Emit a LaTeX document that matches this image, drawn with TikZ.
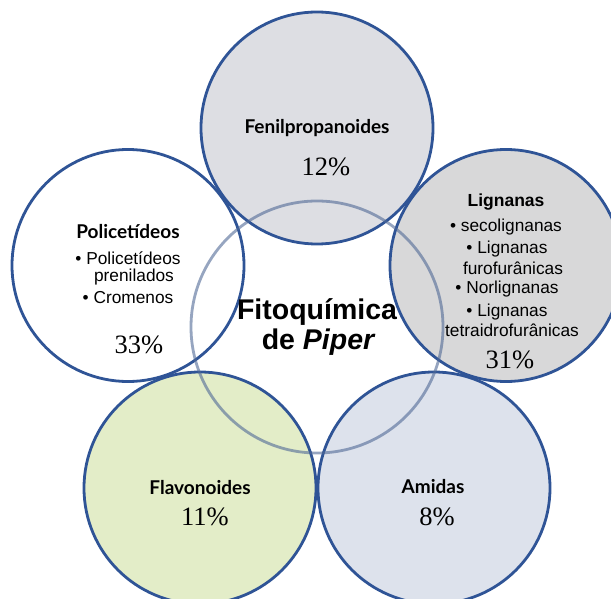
\documentclass[tikz,border=0pt]{standalone}
\usepackage{fontspec}
\setmainfont{Liberation Sans}
\newfontfamily\hdrfont{Lato}
\newfontfamily\arialfont{Liberation Sans}
\newfontfamily\pctfont{Liberation Serif}
\definecolor{ring}{RGB}{47,84,150}
\definecolor{fenfill}{RGB}{221,222,227}
\definecolor{ligfill}{RGB}{216,216,217}
\definecolor{amifill}{RGB}{221,226,236}
\definecolor{flafill}{RGB}{227,237,200}
\definecolor{cenline}{RGB}{80,105,150}
\begin{document}
\begin{tikzpicture}[x=1pt,y=-1pt,
 bubble/.style={circle, minimum size=232pt, inner sep=0pt},
 ringline/.style={draw=ring, line width=2.8pt},
 hdr/.style={font=\hdrfont\bfseries\fontsize{19}{21}\selectfont, inner sep=0pt},
 hdrb/.style={font=\arialfont\bfseries\fontsize{17.5}{20}\selectfont, inner sep=0pt},
 itm/.style={font=\arialfont\fontsize{17.3}{19}\selectfont, inner sep=0pt},
 pct/.style={font=\pctfont\fontsize{26.5}{29}\selectfont, inner sep=0pt},
 title/.style={font=\arialfont\bfseries\fontsize{28.5}{32}\selectfont, inner sep=0pt}
]
\useasboundingbox (0,0) rectangle (611,599);
\clip (0,0) rectangle (611,599);
% fills
\node[bubble, fill=fenfill] (fen) at (317,128) {};
\node[bubble, fill=ligfill] (lig) at (506,265.5) {};
\node[bubble, fill=white] (pol) at (128,265.5) {};
\node[bubble, fill=flafill] (fla) at (200,488) {};
\node[bubble, fill=amifill] (ami) at (434,488) {};
% outlines
\foreach \c in {fen,lig,pol,fla,ami}
  \draw[ringline] (\c.center) circle[radius=116pt];
% central circle
\node[circle, minimum size=252pt, inner sep=0pt, draw=cenline, draw opacity=0.6, line width=2.8pt] (cen) at (317,327) {};
% texts
\node[hdr] (fenh) at (317,128) {Fenilpropanoides};
\node[pct] (fenp) at (326,167) {12\%};

\node[hdrb] (ligh) at (506,202) {Lignanas};
\node[itm] (lig1) at (506,227) {• secolignanas};
\node[itm] (lig2) at (507,249) {• Lignanas};
\node[itm] (lig3) at (513,268) {furofurânicas};
\node[itm] (lig4) at (507,289) {• Norlignanas};
\node[itm] (lig5) at (507,312) {• Lignanas};
\node[itm] (lig6) at (512,330) {tetraidrofurânicas};
\node[pct] (ligp) at (510,360) {31\%};

\node[hdr] (polh) at (128,232) {Policetídeos};
\node[itm] (pol1) at (128,258) {• Policetídeos};
\node[itm] (pol2) at (134,277) {prenilados};
\node[itm] (pol3) at (128,298) {• Cromenos};
\node[pct] (polp) at (139,345) {33\%};

\node[title] (cent1) at (317,312) {Fitoquímica};
\node[title] (cent2) at (318,342) {de \itshape Piper};

\node[hdr] (flah) at (200,488) {Flavonoides};
\node[pct] (flap) at (205,517) {11\%};

\node[hdr] (amih) at (433,487) {Amidas};
\node[pct] (amip) at (437,517) {8\%};
\end{tikzpicture}
\end{document}
